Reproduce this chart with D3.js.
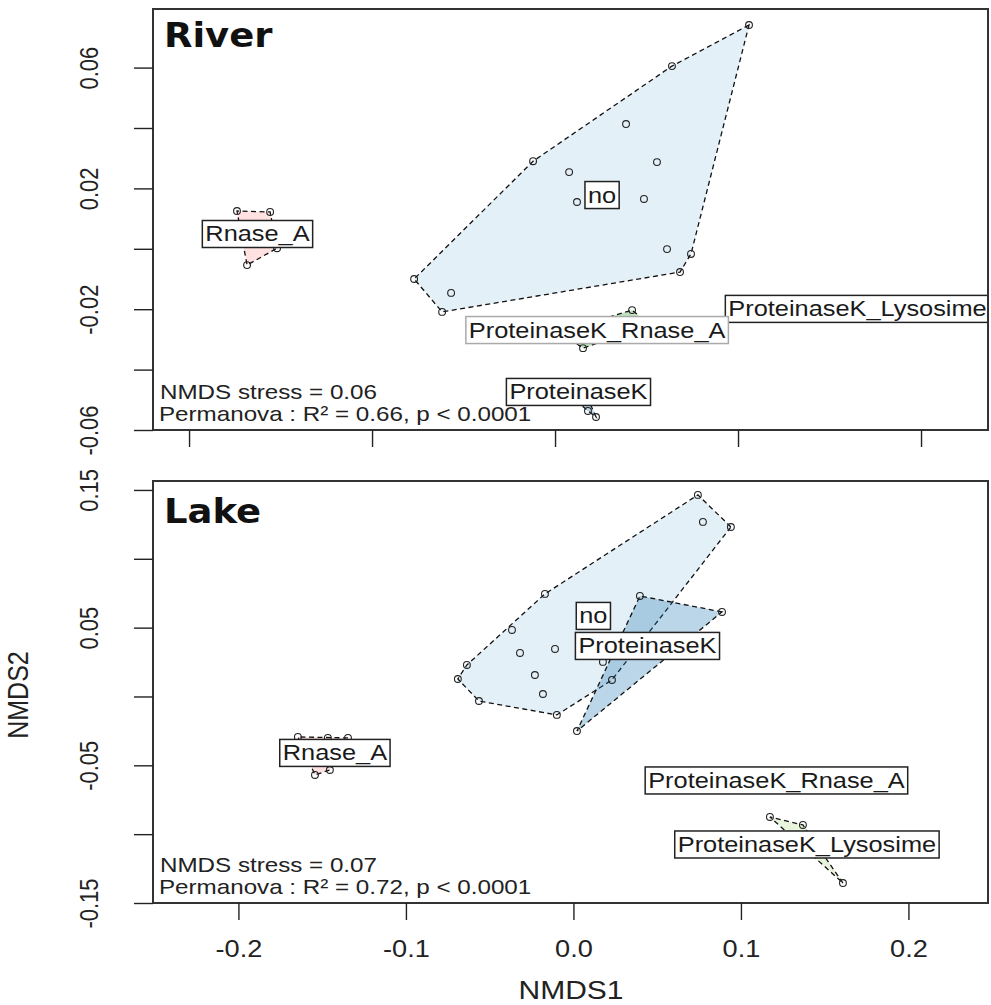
<!DOCTYPE html>
<html>
<head>
<meta charset="utf-8">
<script src="https://cdn.jsdelivr.net/npm/d3@7"></script>
<style>
  body { margin: 0; background: #fff; }
  svg { display: block; }
</style>
</head>
<body>
<svg id="chart" width="991" height="1005"></svg>
<script>
// ---- treatment groups, drawn in this order ----
const groups = ["no", "ProteinaseK", "ProteinaseK_Lysosime", "ProteinaseK_Rnase_A", "Rnase_A"];
const groupColors = ["#A6CEE3", "#1F78B4", "#B2DF8A", "#33A02C", "#FB9A99"];

// ---- River: NMDS site scores per group ----
const riverNoX = [-0.0770, -0.0568, -0.0617, -0.0120, 0.1060, 0.0639, 0.0388, 0.0557, 0.0077, 0.0120, 0.0486, 0.0612, 0.0743, 0.0683];
const riverNoY = [-0.0100, -0.0146, -0.0209, 0.0290, 0.0741, 0.0605, 0.0413, 0.0287, 0.0254, 0.0155, 0.0165, -0.0001, -0.0017, -0.0077];
const riverPkX = [0.0180, 0.0224, 0.0082, 0.0164];
const riverPkY = [-0.0537, -0.0557, -0.0484, -0.0474];
const riverPkLysX = [0.1230, 0.1885, 0.1721];
const riverPkLysY = [-0.0186, -0.0209, -0.0170];
const riverPkRnaX = [0.0421, 0.0519, 0.0153, 0.0027];
const riverPkRnaY = [-0.0203, -0.0252, -0.0329, -0.0276];
const riverRnaX = [-0.1738, -0.1557, -0.1519, -0.1683];
const riverRnaY = [0.0125, 0.0122, 0.0002, -0.0054];
// group label anchors (same order as groups)
const riverLabelX = [0.0257, 0.0128, 0.1653, 0.0230, -0.1626];
const riverLabelY = [0.0178, -0.0474, -0.0199, -0.0269, 0.0049];

// ---- Lake: NMDS site scores per group ----
const lakeNoX = [-0.0170, -0.0367, -0.0636, -0.0690, -0.0564, -0.0319, -0.0110, -0.0230, -0.0182, -0.0099, 0.0176, 0.0230, 0.0743, 0.0773, 0.0940];
const lakeNoY = [0.0745, 0.0483, 0.0229, 0.0127, -0.0033, 0.0316, 0.0345, 0.0156, 0.0018, -0.0134, 0.0251, 0.0120, 0.1464, 0.1268, 0.1231];
const lakePkX = [0.0397, 0.0887, 0.0021, 0.0576];
const lakePkY = [0.0730, 0.0614, -0.0251, 0.0374];
const lakePkLysX = [0.1173, 0.1370, 0.1609];
const lakePkLysY = [-0.0875, -0.0933, -0.1355];
const lakePkRnaX = [0.0875, 0.1352, 0.1591];
const lakePkRnaY = [-0.0570, -0.0643, -0.0607];
const lakeRnaX = [-0.1645, -0.1466, -0.1346, -0.1543, -0.1454];
const lakeRnaY = [-0.0294, -0.0301, -0.0301, -0.0570, -0.0534];
const lakeLabelX = [0.0119, 0.0442, 0.1394, 0.1212, -0.1424];
const lakeLabelY = [0.0585, 0.0367, -0.1075, -0.0610, -0.0410];

// ---- axes ----
const riverXLim = [-0.2197, 0.2366];
const riverYLim = [-0.06, 0.0794];
const lakeXLim = [-0.2510, 0.2475];
const lakeYLim = [-0.15, 0.1565];
const riverXTicks = [-0.2, -0.1, 0, 0.1, 0.2];
const riverXTickLabels = ["", "", "", "", ""];
const riverYTicks = [-0.06, -0.04, -0.02, 0, 0.02, 0.04, 0.06];
const riverYTickLabels = ["-0.06", "", "-0.02", "", "0.02", "", "0.06"];
const lakeXTicks = [-0.2, -0.1, 0, 0.1, 0.2];
const lakeXTickLabels = ["-0.2", "-0.1", "0.0", "0.1", "0.2"];
const lakeYTicks = [-0.15, -0.10, -0.05, 0, 0.05, 0.10, 0.15];
const lakeYTickLabels = ["-0.15", "", "-0.05", "", "0.05", "", "0.15"];

// ---- panel annotations ----
const panelNames = ["River", "Lake"];
const stressValues = ["0.06", "0.07"];
const permanovaR2 = ["0.66", "0.72"];
const permanovaP = ["0.0001", "0.0001"];

// ---- drawing ----
const SX = 1.18;              // horizontal text stretch
const FONT = "'Liberation Sans', Arial, sans-serif";
const svg = d3.select("#chart");

const panels = [
  {
    name: panelNames[0], stress: stressValues[0], r2: permanovaR2[0], p: permanovaP[0],
    top: 9, bottom: 430, left: 153, right: 988,
    xlim: riverXLim, ylim: riverYLim,
    xticks: riverXTicks, xlabels: riverXTickLabels,
    yticks: riverYTicks, ylabels: riverYTickLabels,
    xs: [riverNoX, riverPkX, riverPkLysX, riverPkRnaX, riverRnaX],
    ys: [riverNoY, riverPkY, riverPkLysY, riverPkRnaY, riverRnaY],
    lx: riverLabelX, ly: riverLabelY, titleDy: 38,
    labelBorder: ["#222", "#222", "#222", "#aaa", "#222"]
  },
  {
    name: panelNames[1], stress: stressValues[1], r2: permanovaR2[1], p: permanovaP[1],
    top: 481, bottom: 903, left: 153, right: 988,
    xlim: lakeXLim, ylim: lakeYLim,
    xticks: lakeXTicks, xlabels: lakeXTickLabels,
    yticks: lakeYTicks, ylabels: lakeYTickLabels,
    xs: [lakeNoX, lakePkX, lakePkLysX, lakePkRnaX, lakeRnaX],
    ys: [lakeNoY, lakePkY, lakePkLysY, lakePkRnaY, lakeRnaY],
    lx: lakeLabelX, ly: lakeLabelY, titleDy: 42,
    labelBorder: ["#222", "#222", "#222", "#222", "#222"]
  }
];

panels.forEach((P, pi) => {
  const x = d3.scaleLinear().domain(P.xlim).range([P.left, P.right]);
  const y = d3.scaleLinear().domain(P.ylim).range([P.bottom, P.top]);
  const clipId = "clip" + pi;
  svg.append("clipPath").attr("id", clipId)
    .append("rect").attr("x", P.left).attr("y", P.top)
    .attr("width", P.right - P.left).attr("height", P.bottom - P.top);

  const plot = svg.append("g").attr("clip-path", `url(#${clipId})`);

  // convex hulls
  groups.forEach((g, gi) => {
    const pts = P.xs[gi].map((v, i) => [x(v), y(P.ys[gi][i])]);
    const hull = d3.polygonHull(pts);
    if (!hull) return;
    plot.append("path")
      .attr("d", d3.line().curve(d3.curveLinearClosed)(hull))
      .attr("fill", groupColors[gi]).attr("fill-opacity", 0.3)
      .attr("stroke", "#111").attr("stroke-width", 1.3)
      .attr("stroke-dasharray", "5,3.5");
  });

  // site points
  groups.forEach((g, gi) => {
    plot.selectAll(null).data(P.xs[gi].map((v, i) => [v, P.ys[gi][i]]))
      .enter().append("circle")
      .attr("cx", d => x(d[0])).attr("cy", d => y(d[1]))
      .attr("r", 3.4).attr("fill", "none")
      .attr("stroke", "#222").attr("stroke-width", 1.1);
  });

  // group labels in white boxes
  groups.forEach((g, gi) => {
    const cx = x(P.lx[gi]), cy = y(P.ly[gi]);
    const lg = plot.append("g");
    const box = lg.append("rect");
    const t = lg.append("text").text(g)
      .attr("font-family", FONT).attr("font-size", 21.5)
      .attr("fill", "#1a1a1a").attr("text-anchor", "middle")
      .attr("transform", `translate(${cx},${cy + 7.5}) scale(${SX},1)`);
    const w = t.node().getComputedTextLength() * SX + 6;
    const h = 27;
    box.attr("x", cx - w / 2).attr("y", cy - h / 2)
      .attr("width", w).attr("height", h)
      .attr("fill", "#fff").attr("stroke", P.labelBorder[gi]).attr("stroke-width", 1.5);
  });

  // frame
  svg.append("rect")
    .attr("x", P.left).attr("y", P.top)
    .attr("width", P.right - P.left).attr("height", P.bottom - P.top)
    .attr("fill", "none").attr("stroke", "#333").attr("stroke-width", 2);

  // panel title
  svg.append("text").text(P.name)
    .attr("font-family", "'DejaVu Sans', sans-serif").attr("font-weight", "bold")
    .attr("font-size", 33).attr("fill", "#111")
    .attr("transform", `translate(${P.left + 11},${P.top + P.titleDy}) scale(1.12,1)`);

  // stress / permanova annotation
  svg.append("text").text(`NMDS stress = ${P.stress}`)
    .attr("font-family", FONT).attr("font-size", 20.5).attr("fill", "#222")
    .attr("transform", `translate(${P.left + 7},${P.bottom - 31}) scale(${SX},1)`);
  svg.append("text").text(`Permanova : R\u00B2 = ${P.r2}, p < ${P.p}`)
    .attr("font-family", FONT).attr("font-size", 20.5).attr("fill", "#222")
    .attr("transform", `translate(${P.left + 6},${P.bottom - 9}) scale(${SX},1)`);

  // x axis
  const xAxis = svg.append("g").attr("transform", `translate(0,${P.bottom})`)
    .call(d3.axisBottom(x).tickValues(P.xticks).tickSize(17).tickSizeOuter(0)
      .tickFormat((d, i) => P.xlabels[i]));
  xAxis.select(".domain").remove();
  xAxis.selectAll(".tick line").attr("stroke", "#222").attr("stroke-width", 1.4);
  xAxis.selectAll(".tick text")
    .attr("font-family", FONT).attr("font-size", 23).attr("fill", "#222")
    .attr("y", null).attr("dy", null)
    .attr("transform", `translate(0,54) scale(${SX},1)`);

  // y axis with rotated labels
  const yAxis = svg.append("g").attr("transform", `translate(${P.left},0)`)
    .call(d3.axisLeft(y).tickValues(P.yticks).tickSize(19).tickSizeOuter(0)
      .tickFormat((d, i) => P.ylabels[i]));
  yAxis.select(".domain").remove();
  yAxis.selectAll(".tick line").attr("stroke", "#222").attr("stroke-width", 1.4);
  yAxis.selectAll(".tick text")
    .attr("font-family", FONT).attr("font-size", 22).attr("fill", "#222")
    .attr("x", null).attr("dy", null).attr("text-anchor", "middle")
    .attr("transform", `translate(-55,0) scale(${SX},1) rotate(-90)`);
});

// axis titles
svg.append("text").text("NMDS1")
  .attr("font-family", FONT).attr("font-size", 25).attr("fill", "#222")
  .attr("text-anchor", "middle")
  .attr("transform", `translate(571,999) scale(1.2,1)`);
svg.append("text").text("NMDS2")
  .attr("font-family", FONT).attr("font-size", 25).attr("fill", "#222")
  .attr("text-anchor", "middle")
  .attr("transform", `translate(28,695) scale(1.2,1) rotate(-90)`);
</script>
</body>
</html>
